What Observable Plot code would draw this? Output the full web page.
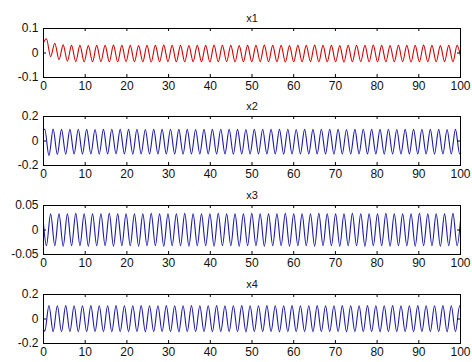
<!DOCTYPE html>
<html>
<head>
<meta charset="utf-8">
<script src="https://cdn.jsdelivr.net/npm/d3@7"></script>
<script src="https://cdn.jsdelivr.net/npm/@observablehq/plot@0.6"></script>
<style>
  html, body { margin: 0; padding: 0; background: white; }
  #chart { position: relative; width: 472px; height: 362px; background: white; }
  #chart svg { position: absolute; left: 0; }
</style>
</head>
<body>
<div id="chart"></div>
<script>
// Panel titles
const titles = ["x1", "x2", "x3", "x4"];
// x-axis ticks
const xTicks = [0, 10, 20, 30, 40, 50, 60, 70, 80, 90, 100];
// y-axis ticks per panel
const yTicks1 = [-0.1, 0, 0.1];
const yTicks2 = [-0.2, 0, 0.2];
const yTicks3 = [-0.05, 0, 0.05];
const yTicks4 = [-0.2, 0, 0.2];

// sample times (start, successive extrema, end)
const tA = [0,
  0.70,1.71,2.71,3.72,4.72,5.73,6.73,7.74,8.74,9.75,
  10.75,11.76,12.76,13.77,14.77,15.78,16.78,17.79,18.79,19.80,
  20.80,21.81,22.81,23.82,24.82,25.83,26.83,27.84,28.84,29.85,
  30.85,31.86,32.86,33.87,34.87,35.88,36.88,37.89,38.89,39.90,
  40.90,41.91,42.91,43.92,44.92,45.93,46.93,47.94,48.94,49.95,
  50.95,51.96,52.96,53.97,54.97,55.98,56.98,57.99,58.99,60.00,
  61.00,62.01,63.01,64.02,65.02,66.03,67.03,68.04,69.04,70.05,
  71.05,72.06,73.06,74.07,75.07,76.08,77.08,78.09,79.09,80.10,
  81.10,82.11,83.11,84.12,85.12,86.13,87.13,88.14,89.14,90.15,
  91.15,92.16,93.16,94.17,95.17,96.18,97.18,98.19,99.19,
  100];
const tB = [0,
  0.30,1.31,2.31,3.32,4.32,5.33,6.33,7.34,8.34,9.35,
  10.35,11.36,12.36,13.37,14.37,15.38,16.38,17.39,18.39,19.40,
  20.40,21.41,22.41,23.42,24.42,25.43,26.43,27.44,28.44,29.45,
  30.45,31.46,32.46,33.47,34.47,35.48,36.48,37.49,38.49,39.50,
  40.50,41.51,42.51,43.52,44.52,45.53,46.53,47.54,48.54,49.55,
  50.55,51.56,52.56,53.57,54.57,55.58,56.58,57.59,58.59,59.60,
  60.60,61.61,62.61,63.62,64.62,65.63,66.63,67.64,68.64,69.65,
  70.65,71.66,72.66,73.67,74.67,75.68,76.68,77.69,78.69,79.70,
  80.70,81.71,82.71,83.72,84.72,85.73,86.73,87.74,88.74,89.75,
  90.75,91.76,92.76,93.77,94.77,95.78,96.78,97.79,98.79,99.80,
  100];

// series values at those times
const x1 = [0.042,
  0.058,-0.015,0.040,-0.027,0.033,-0.033,0.031,-0.035,0.031,-0.036,
  0.030,-0.036,0.031,-0.035,0.031,-0.036,0.032,-0.036,0.031,-0.035,
  0.031,-0.036,0.030,-0.036,0.031,-0.037,0.031,-0.036,0.032,-0.035,
  0.031,-0.036,0.031,-0.036,0.030,-0.035,0.031,-0.036,0.031,-0.037,
  0.032,-0.036,0.031,-0.035,0.031,-0.036,0.030,-0.036,0.031,-0.036,
  0.031,-0.035,0.032,-0.036,0.031,-0.036,0.031,-0.037,0.030,-0.036,
  0.031,-0.036,0.031,-0.035,0.032,-0.036,0.031,-0.036,0.031,-0.036,
  0.030,-0.037,0.031,-0.036,0.031,-0.035,0.031,-0.036,0.032,-0.036,
  0.031,-0.036,0.030,-0.036,0.031,-0.035,0.031,-0.037,0.031,-0.036,
  0.032,-0.036,0.031,-0.036,0.030,-0.035,0.031,-0.036,0.031,
  -0.012];
const x2 = [0.088,
  0.096,-0.120,0.097,-0.110,0.095,-0.107,0.095,-0.106,0.096,-0.106,
  0.095,-0.106,0.094,-0.107,0.095,-0.106,0.096,-0.105,0.095,-0.106,
  0.095,-0.107,0.096,-0.106,0.094,-0.106,0.095,-0.105,0.095,-0.106,
  0.096,-0.106,0.095,-0.107,0.095,-0.106,0.094,-0.106,0.095,-0.105,
  0.095,-0.106,0.096,-0.106,0.095,-0.107,0.095,-0.106,0.094,-0.106,
  0.095,-0.105,0.096,-0.106,0.095,-0.106,0.095,-0.107,0.096,-0.106,
  0.094,-0.106,0.095,-0.105,0.095,-0.106,0.096,-0.106,0.095,-0.107,
  0.095,-0.106,0.094,-0.106,0.095,-0.105,0.096,-0.106,0.095,-0.106,
  0.095,-0.107,0.096,-0.106,0.094,-0.106,0.095,-0.105,0.095,-0.106,
  0.096,-0.106,0.095,-0.107,0.095,-0.106,0.094,-0.106,0.095,-0.106,
  -0.100];
const x3 = [0.012,
  -0.032,0.033,-0.032,0.033,-0.033,0.033,-0.032,0.034,-0.032,0.033,
  -0.033,0.033,-0.032,0.033,-0.032,0.034,-0.033,0.033,-0.032,0.033,
  -0.032,0.033,-0.033,0.033,-0.032,0.034,-0.032,0.033,-0.033,0.033,
  -0.032,0.033,-0.032,0.034,-0.033,0.033,-0.032,0.033,-0.032,0.033,
  -0.033,0.034,-0.032,0.033,-0.032,0.033,-0.033,0.033,-0.032,0.034,
  -0.032,0.033,-0.033,0.033,-0.032,0.033,-0.032,0.034,-0.033,0.033,
  -0.032,0.033,-0.032,0.033,-0.033,0.034,-0.032,0.033,-0.032,0.033,
  -0.033,0.033,-0.032,0.034,-0.032,0.033,-0.033,0.033,-0.032,0.033,
  -0.032,0.034,-0.033,0.033,-0.032,0.033,-0.032,0.033,-0.033,0.034,
  -0.032,0.033,-0.032,0.033,-0.033,0.033,-0.032,0.034,-0.032,
  0.020];
const x4 = [-0.082,
  -0.100,0.110,-0.104,0.108,-0.104,0.109,-0.104,0.108,-0.105,0.108,
  -0.104,0.109,-0.104,0.108,-0.104,0.108,-0.105,0.109,-0.104,0.108,
  -0.104,0.108,-0.104,0.109,-0.105,0.108,-0.104,0.108,-0.104,0.109,
  -0.104,0.108,-0.105,0.108,-0.104,0.109,-0.104,0.108,-0.104,0.108,
  -0.105,0.109,-0.104,0.108,-0.104,0.108,-0.104,0.109,-0.105,0.108,
  -0.104,0.108,-0.104,0.109,-0.104,0.108,-0.105,0.108,-0.104,0.109,
  -0.104,0.108,-0.104,0.108,-0.105,0.109,-0.104,0.108,-0.104,0.108,
  -0.104,0.109,-0.105,0.108,-0.104,0.108,-0.104,0.109,-0.104,0.108,
  -0.105,0.108,-0.104,0.109,-0.104,0.108,-0.104,0.108,-0.105,0.109,
  -0.104,0.108,-0.104,0.108,-0.104,0.109,-0.105,0.108,-0.104,0.108,
  0.100];

const panels = [
  {title: titles[0], t: tA, v: x1, yTicks: yTicks1, color: "#d40000", top: 0},
  {title: titles[1], t: tB, v: x2, yTicks: yTicks2, color: "#1a1aa8", top: 88},
  {title: titles[2], t: tA, v: x3, yTicks: yTicks3, color: "#1a1aa8", top: 177},
  {title: titles[3], t: tB, v: x4, yTicks: yTicks4, color: "#1a1aa8", top: 266}
];

const fmt = d => String(d);
const chart = document.getElementById("chart");

for (const p of panels) {
  const rows = p.t.map((t, i) => ({t, v: p.v[i]}));
  const ext = [p.yTicks[0], p.yTicks[p.yTicks.length - 1]];
  const svg = Plot.plot({
    width: 472,
    height: 93,
    marginLeft: 43,
    marginRight: 12,
    marginTop: 28,
    marginBottom: 16,
    style: {background: "transparent", fontFamily: "'Liberation Sans', Arial, sans-serif", fontSize: "12px", color: "#111", overflow: "visible"},
    x: {domain: [0, 100], label: null},
    y: {domain: ext, label: null},
    marks: [
      Plot.line(rows, {x: "t", y: "v", stroke: p.color, strokeWidth: 1.1, curve: "monotone-x"}),
      Plot.tickX(xTicks, {x: d => d, insetTop: 46, stroke: "black"}),
      Plot.tickX(xTicks, {x: d => d, insetBottom: 46, stroke: "black"}),
      Plot.tickY(p.yTicks, {y: d => d, insetRight: 414, stroke: "black"}),
      Plot.tickY(p.yTicks, {y: d => d, insetLeft: 414, stroke: "black"}),
      Plot.frame({stroke: "black"}),
      Plot.axisX(xTicks, {tickSize: 0, tickPadding: 4, tickFormat: fmt, fontSize: 12}),
      Plot.axisY(p.yTicks, {tickSize: 0, tickPadding: 5, tickFormat: fmt, fontSize: 12}),
      Plot.text([p.title], {text: d => d, frameAnchor: "top", dy: -14, fontSize: 11, fill: "#111"})
    ]
  });
  svg.style.top = p.top + "px";
  chart.appendChild(svg);
}
</script>
</body>
</html>
